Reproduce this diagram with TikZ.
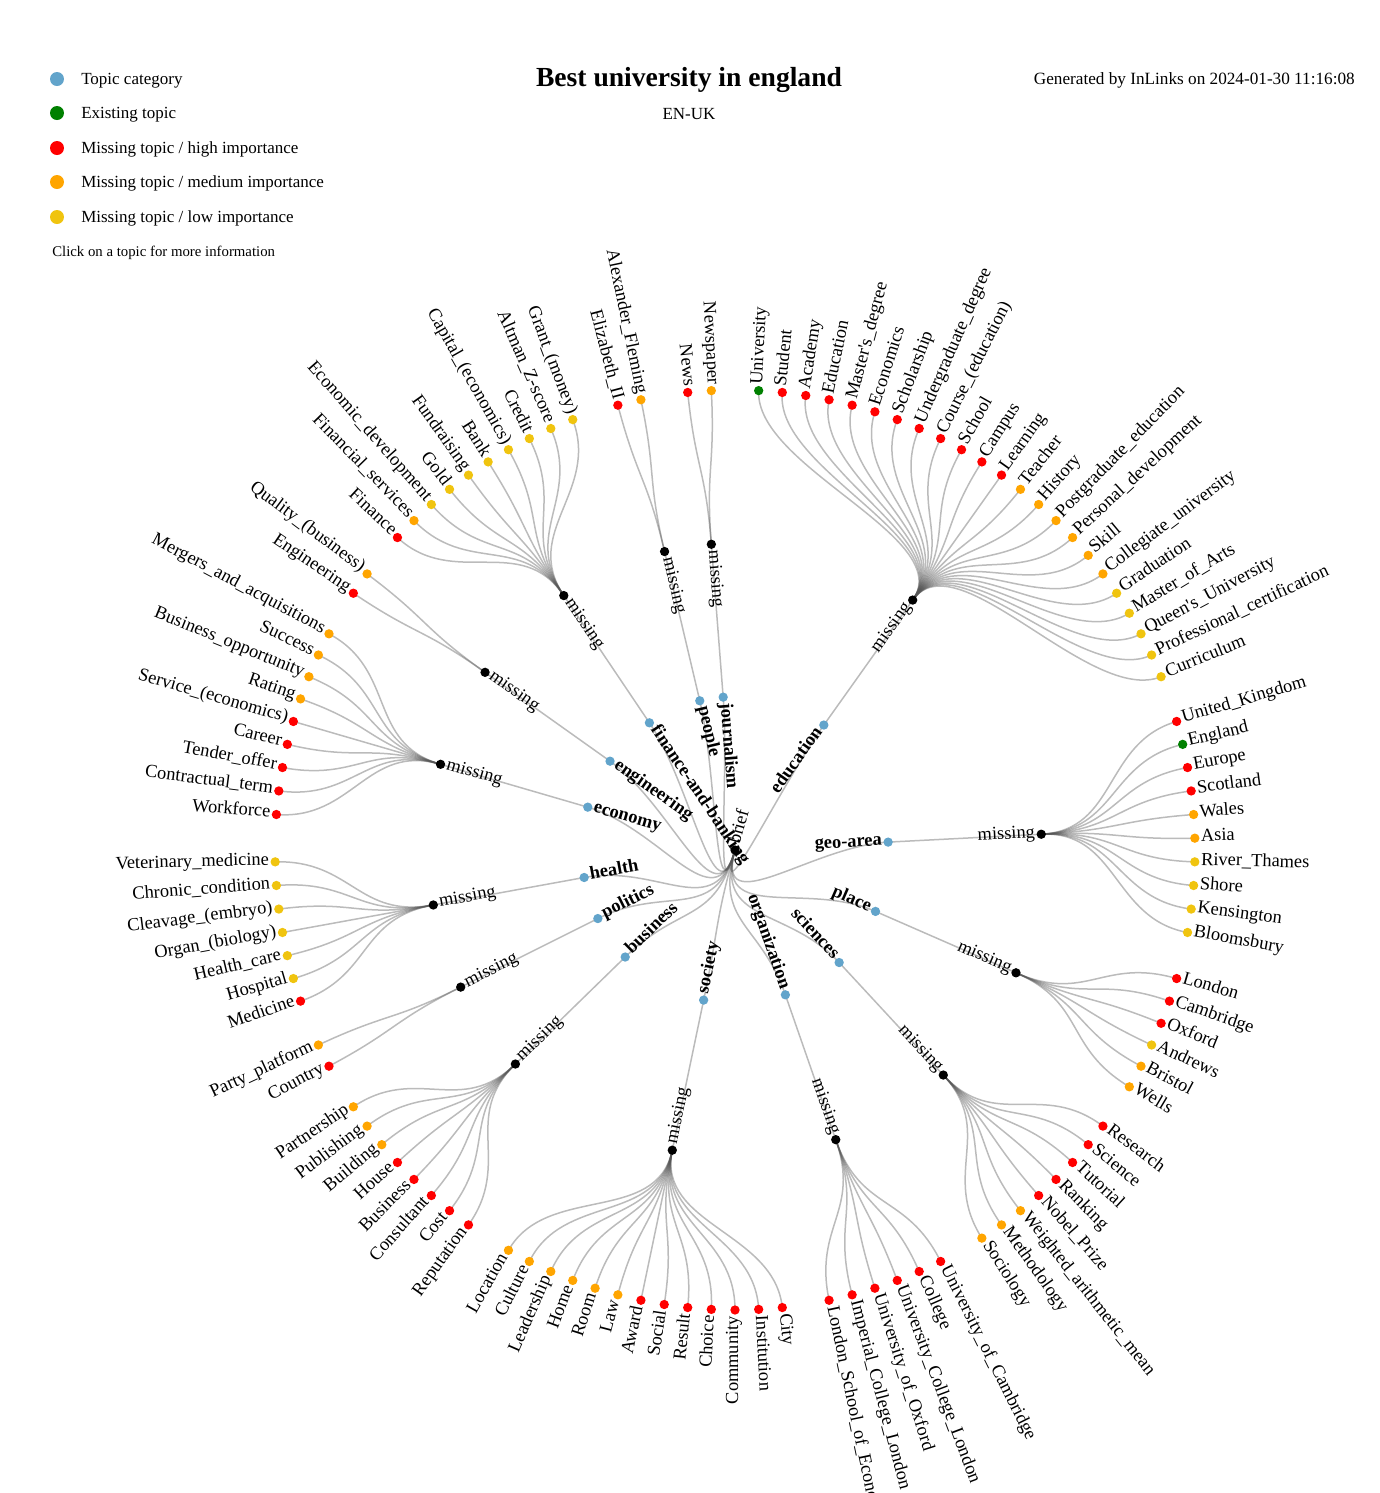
\documentclass[tikz,border=0pt]{standalone}
\usepackage{fontspec}
\setmainfont{Liberation Serif}
\usetikzlibrary{calc}
\pgfdeclarelayer{bg}\pgfdeclarelayer{fg}
\pgfsetlayers{bg,main,fg}
\definecolor{catblue}{HTML}{62A4CB}
\definecolor{cG}{HTML}{008000}
\definecolor{cR}{HTML}{FF0000}
\definecolor{cO}{HTML}{FFA500}
\definecolor{cY}{HTML}{F0C40F}
\definecolor{linkgray}{HTML}{555555}
\tikzset{
  leafdot/.style={circle, inner sep=0pt, minimum size=7pt, draw=none},
  catdot/.style={leafdot, fill=catblue},
  missdot/.style={leafdot, fill=black},
  legdot/.style={circle, inner sep=0pt, minimum size=10.5pt, draw=none},
  lbl/.style={inner sep=0pt, font=\fontsize{13.8}{16}\selectfont},
  catlbl/.style={inner sep=0pt, font=\fontsize{13.8}{16}\selectfont\bfseries},
  legtxt/.style={inner sep=0pt, anchor=base west, font=\fontsize{12.75}{15}\selectfont},
  link/.style={draw=linkgray, draw opacity=0.4, line width=1.125pt}
}
\newcommand\cluster[4]{%
  \pgfmathsetmacro\tCat{(#3+1)*2.950819672}%
  \pgfmathsetmacro\aCat{90-\tCat}%
  \pgfmathsetmacro\aCatR{\aCat+180}%
  \begin{pgfonlayer}{fg}%
    \node[catdot] (C#1) at ($(ctr)+(\aCat:153.333)$) {};%
    \node[missdot] (M#1) at ($(ctr)+(\aCat:306.667)$) {};%
  \end{pgfonlayer}%
  \begin{pgfonlayer}{bg}%
    \draw[link] (root.center) .. controls ($(ctr)+(\aRoot:76.667)$) and ($(ctr)+(\aCat:76.667)$) .. (C#1.center);%
    \draw[link] (C#1.center) -- (M#1.center);%
  \end{pgfonlayer}%
  \ifdim\tCat pt<180pt
    \node[catlbl, anchor=mid east, rotate=\aCat] (TC#1) at ($(ctr)+(\aCat:147.333)$) {#2};%
    \node[lbl, anchor=mid east, rotate=\aCat] (TM#1) at ($(ctr)+(\aCat:300.667)$) {missing};%
  \else
    \node[catlbl, anchor=mid west, rotate=\aCatR] (TC#1) at ($(ctr)+(\aCat:147.333)$) {#2};%
    \node[lbl, anchor=mid west, rotate=\aCatR] (TM#1) at ($(ctr)+(\aCat:300.667)$) {missing};%
  \fi
  \foreach \i/\col/\lab in {#4}{%
    \pgfmathsetmacro\tL{(\i+1)*2.950819672}%
    \pgfmathsetmacro\aL{90-\tL}%
    \pgfmathsetmacro\aLR{\aL+180}%
    \begin{pgfonlayer}{fg}\node[leafdot, fill=\col] (L\i) at ($(ctr)+(\aL:460)$) {};\end{pgfonlayer}%
    \begin{pgfonlayer}{bg}\draw[link] (M#1.center) .. controls ($(ctr)+(\aCat:383.333)$) and ($(ctr)+(\aL:383.333)$) .. (L\i.center);\end{pgfonlayer}%
    \ifdim\tL pt<180pt
      \node[lbl, anchor=mid west, rotate=\aL] (T\i) at ($(ctr)+(\aL:466)$) {\lab};%
    \else
      \node[lbl, anchor=mid east, rotate=\aLR] (T\i) at ($(ctr)+(\aL:466)$) {\lab};%
    \fi
  }%
}
\begin{document}
\begin{tikzpicture}[x=0.75pt,y=0.75pt]
\useasboundingbox (0,0) rectangle (1379,-1493);
\clip (0,0) rectangle (1379,-1493);
\coordinate (ctr) at (735,-850);
\pgfmathsetmacro\aRoot{90-195.4918}
\pgfmathsetmacro\aRootR{\aRoot+180}
\begin{pgfonlayer}{fg}
\node[missdot] (root) at (ctr) {};
\end{pgfonlayer}
\node[lbl, anchor=mid west, rotate=\aRootR] (troot) at ($(ctr)+(\aRootR:6)$) {brief};

% legend and titles
\node[legdot, fill=catblue] (lg1) at (57,-79) {};
\node[legtxt] (lt1) at (81,-84) {Topic category};
\node[legdot, fill=cG] (lg2) at (57,-113) {};
\node[legtxt] (lt2) at (81,-118) {Existing topic};
\node[legdot, fill=cR] (lg3) at (57,-148) {};
\node[legtxt] (lt3) at (81,-153) {Missing topic / high importance};
\node[legdot, fill=cO] (lg4) at (57,-182) {};
\node[legtxt] (lt4) at (81,-187) {Missing topic / medium importance};
\node[legdot, fill=cY] (lg5) at (57,-217) {};
\node[legtxt] (lt5) at (81,-222) {Missing topic / low importance};
\node[inner sep=0pt, anchor=base west, font=\fontsize{11.1}{13}\selectfont] (click) at (52,-256) {Click on a topic for more information};
\node[inner sep=0pt, anchor=base, font=\fontsize{20.7}{24}\selectfont\bfseries] (title) at (689,-86) {Best university in england};
\node[inner sep=0pt, anchor=base, font=\fontsize{12.75}{15}\selectfont] (lang) at (689,-119) {EN-UK};
\node[inner sep=0pt, anchor=base east, font=\fontsize{12.9}{15}\selectfont] (gen) at (1355,-84) {Generated by InLinks on 2024-01-30 11:16:08};

\cluster{E}{education}{11}{0/cG/University, 1/cR/Student, 2/cR/Academy, 3/cR/Education, 4/cR/Master\textquotesingle s\_degree, 5/cR/Economics, 6/cR/Scholarship, 7/cR/Undergraduate\_degree, 8/cR/Course\_(education), 9/cR/School, 10/cR/Campus, 11/cR/Learning, 12/cO/Teacher, 13/cO/History, 14/cO/Postgraduate\_education, 15/cO/Personal\_development, 16/cO/Skill, 17/cO/Collegiate\_university, 18/cY/Graduation, 19/cY/Master\_of\_Arts, 20/cY/Queen\textquotesingle s\_University, 21/cY/Professional\_certification, 22/cY/Curriculum}
\cluster{G}{geo-area}{28.5}{24/cR/United\_Kingdom, 25/cG/England, 26/cR/Europe, 27/cR/Scotland, 28/cO/Wales, 29/cO/Asia, 30/cY/River\_Thames, 31/cY/Shore, 32/cY/Kensington, 33/cY/Bloomsbury}
\cluster{P}{place}{37.5}{35/cR/London, 36/cR/Cambridge, 37/cR/Oxford, 38/cY/Andrews, 39/cO/Bristol, 40/cO/Wells}
\cluster{S}{sciences}{45.5}{42/cR/Research, 43/cR/Science, 44/cR/Tutorial, 45/cR/Ranking, 46/cR/Nobel\_Prize, 47/cO/Weighted\_arithmetic\_mean, 48/cO/Methodology, 49/cO/Sociology}
\cluster{O}{organization}{53.5}{51/cR/University\_of\_Cambridge, 52/cR/College, 53/cR/University\_College\_London, 54/cR/University\_of\_Oxford, 55/cR/Imperial\_College\_London, 56/cR/London\_School\_of\_Economics}
\cluster{SO}{society}{64}{58/cR/City, 59/cR/Institution, 60/cR/Community, 61/cR/Choice, 62/cR/Result, 63/cR/Social, 64/cR/Award, 65/cO/Law, 66/cO/Room, 67/cO/Home, 68/cO/Leadership, 69/cO/Culture, 70/cO/Location}
\cluster{B}{business}{75.5}{72/cR/Reputation, 73/cR/Cost, 74/cR/Consultant, 75/cR/Business, 76/cR/House, 77/cO/Building, 78/cO/Publishing, 79/cO/Partnership}
\cluster{PO}{politics}{81.5}{81/cR/Country, 82/cO/Party\_platform}
\cluster{H}{health}{87}{84/cR/Medicine, 85/cY/Hospital, 86/cY/Health\_care, 87/cY/Organ\_(biology), 88/cY/Cleavage\_(embryo), 89/cY/Chronic\_condition, 90/cY/Veterinary\_medicine}
\cluster{EC}{economy}{96}{92/cR/Workforce, 93/cR/Contractual\_term, 94/cR/Tender\_offer, 95/cR/Career, 96/cR/Service\_(economics), 97/cO/Rating, 98/cO/Business\_opportunity, 99/cO/Success, 100/cO/Mergers\_and\_acquisitions}
\cluster{EN}{engineering}{102.5}{102/cR/Engineering, 103/cO/Quality\_(business)}
\cluster{F}{finance-and-banking}{109.5}{105/cR/Finance, 106/cO/Financial\_services, 107/cY/Economic\_development, 108/cY/Gold, 109/cY/Fundraising, 110/cY/Bank, 111/cY/Capital\_(economics), 112/cY/Credit, 113/cY/Altman\_Z-score, 114/cY/Grant\_(money)}
\cluster{PE}{people}{116.5}{116/cR/Elizabeth\_II, 117/cO/Alexander\_Fleming}
\cluster{J}{journalism}{119.5}{119/cR/News, 120/cO/Newspaper}
\end{tikzpicture}
\end{document}
